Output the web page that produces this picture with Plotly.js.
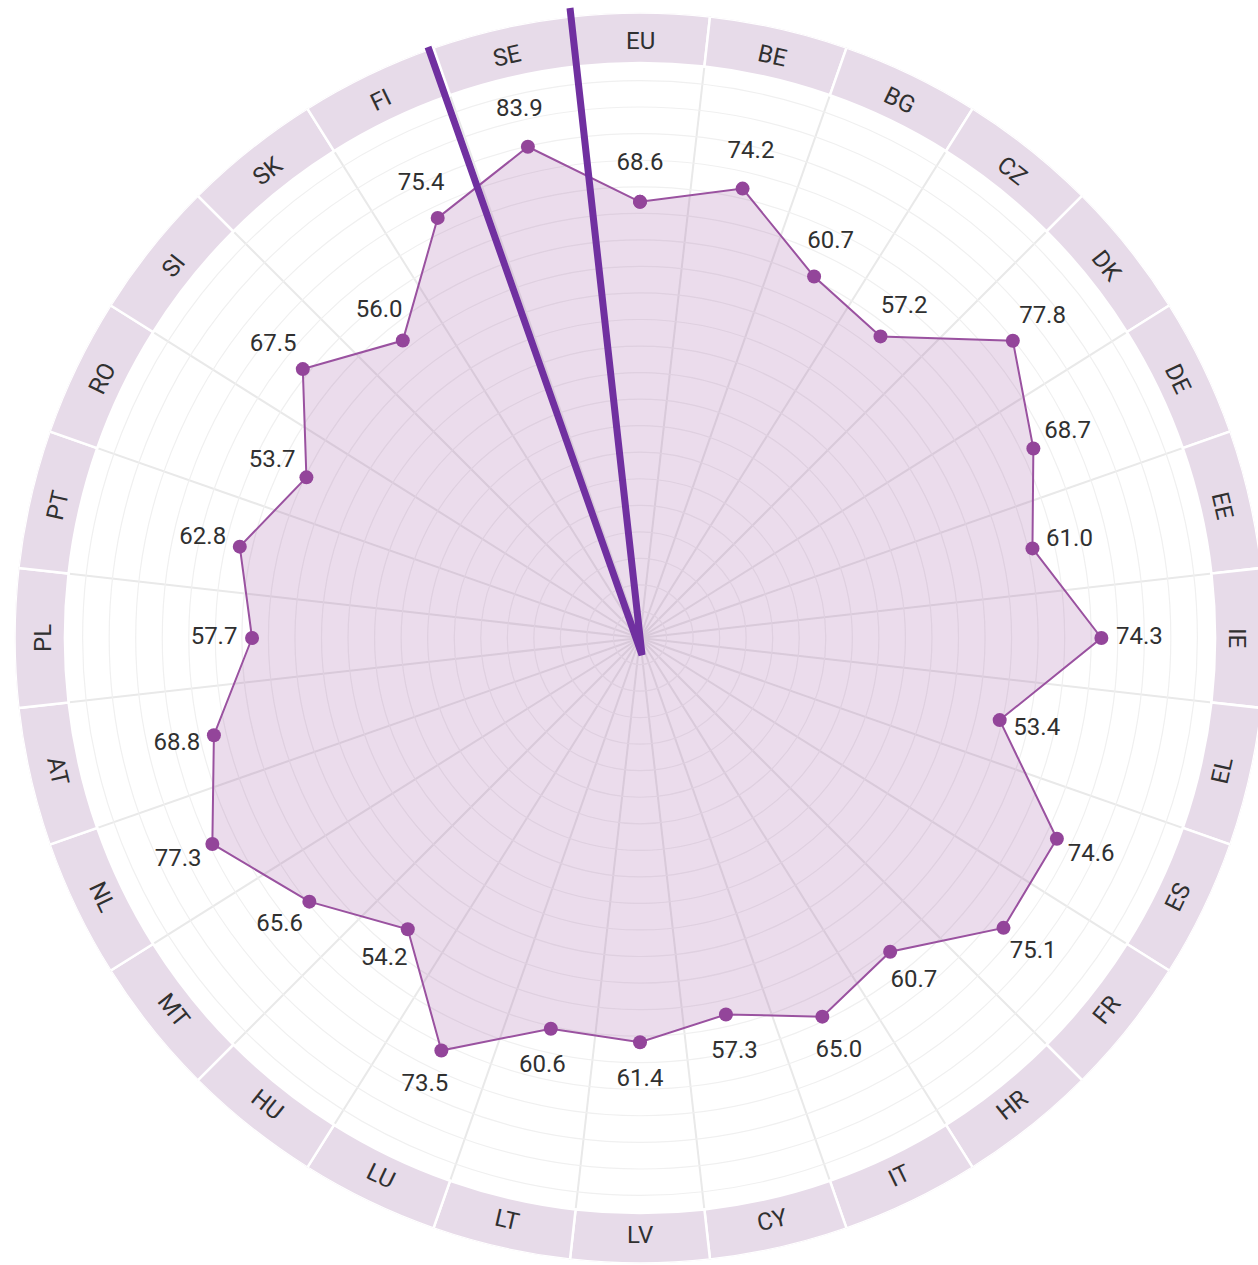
<!DOCTYPE html>
<html>
<head>
<meta charset="utf-8">
<script src="https://cdn.plot.ly/plotly-3.0.1.min.js"></script>
<style>
html, body { margin: 0; padding: 0; overflow: hidden; background: #ffffff; }
#chart { width: 1270px; height: 1265px; }
</style>
</head>
<body>
<div id="chart"></div>
<script>
// ---- data ----
const countries = ['EU','BE','BG','CZ','DK','DE','EE','IE','EL','ES','FR','HR','IT','CY','LV','LT','LU','HU','MT','NL','AT','PL','PT','RO','SI','SK','FI','SE'];
const values = [68.6,74.2,60.7,57.2,77.8,68.7,61.0,74.3,53.4,74.6,75.1,60.7,65.0,57.3,61.4,60.6,73.5,54.2,65.6,77.3,68.8,57.7,62.8,53.7,67.5,56.0,75.4,83.9];
const valueLabels = values.map(v => v.toFixed(1));

// ---- geometry / style ----
const W = 1270, H = 1265;
const CX = 640, CY = 638, R = 625.5;      // pixel centre & outer radius of the polar
const R_MIN = -30, R_MAX = 111.4, BAND_BASE = 100;
const N = countries.length;
const step = 360 / N;
const theta = countries.map((c, i) => i * step);
const pxPerUnit = R / (R_MAX - R_MIN);
const labelOffset = 38 / pxPerUnit;

const purple = '#93459a';
const lineCol = '#9a52a0';
const bandCol = '#e7dbe9';
const textCol = '#303030';
const fontFam = 'Roboto, "Noto Sans", sans-serif';

// closed polygon
const thetaClosed = theta.concat([theta[0]]);
const valuesClosed = values.concat([values[0]]);

const bandTrace = {
  type: 'barpolar',
  theta: theta,
  r: countries.map(() => R_MAX - BAND_BASE),
  base: BAND_BASE,
  width: countries.map(() => step),
  marker: { color: bandCol, line: { color: '#ffffff', width: 2.5 } },
  hoverinfo: 'skip',
  showlegend: false
};

const areaTrace = {
  type: 'scatterpolar',
  mode: 'lines+markers',
  theta: thetaClosed,
  r: valuesClosed,
  fill: 'toself',
  fillcolor: 'rgba(147,69,154,0.19)',
  line: { color: lineCol, width: 2 },
  marker: { color: purple, size: 14 },
  showlegend: false,
  hoverinfo: 'skip'
};

const labelTrace = {
  type: 'scatterpolar',
  mode: 'text',
  theta: theta,
  r: values.map(v => v + labelOffset),
  text: valueLabels,
  textposition: 'middle center',
  textfont: { family: fontFam, size: 24, color: textCol },
  showlegend: false,
  hoverinfo: 'skip'
};

// band labels (tangential)
const bandLabelR = 597;
const annotations = countries.map((c, i) => {
  const a = theta[i];
  const rad = a * Math.PI / 180;
  const px = CX + bandLabelR * Math.sin(rad);
  const py = CY - bandLabelR * Math.cos(rad);
  let rot;
  if (a > 90 && a < 270) rot = a - 180;
  else if (a >= 270) rot = a - 360;
  else rot = a;
  return {
    xref: 'paper', yref: 'paper',
    x: px / W, y: 1 - py / H,
    xanchor: 'center', yanchor: 'middle',
    text: c, showarrow: false, textangle: rot,
    font: { family: fontFam, size: 24, color: textCol }
  };
});

// highlight wedge lines
const P = (x, y) => `${(x / W).toFixed(5)} ${(1 - y / H).toFixed(5)}`;
const wedge = {
  type: 'path', xref: 'paper', yref: 'paper', layer: 'above',
  path: `M ${P(570, 8)} L ${P(642, 655)} L ${P(428, 47)}`,
  line: { color: '#7030a0', width: 7 }
};

const layout = {
  width: W, height: H,
  margin: { l: 0, r: 0, t: 0, b: 0, pad: 0 },
  paper_bgcolor: '#ffffff',
  showlegend: false,
  polar: {
    domain: { x: [(CX - R) / W, (CX + R) / W], y: [(H - CY - R) / H, (H - CY + R) / H] },
    bgcolor: '#ffffff',
    barmode: 'overlay',
    radialaxis: {
      range: [R_MIN, R_MAX],
      tick0: R_MIN, dtick: 6,
      showticklabels: false, ticks: '', showline: false,
      gridcolor: '#f0f0f0', gridwidth: 1.2
    },
    angularaxis: {
      type: 'linear', thetaunit: 'degrees',
      rotation: 90, direction: 'clockwise',
      tick0: step / 2, dtick: step,
      showticklabels: false, ticks: '', showline: false,
      gridcolor: '#e9e9e9', gridwidth: 2
    }
  },
  annotations: annotations,
  shapes: [wedge]
};

Plotly.newPlot('chart', [bandTrace, areaTrace, labelTrace], layout, { displayModeBar: false, staticPlot: true });
</script>
</body>
</html>
